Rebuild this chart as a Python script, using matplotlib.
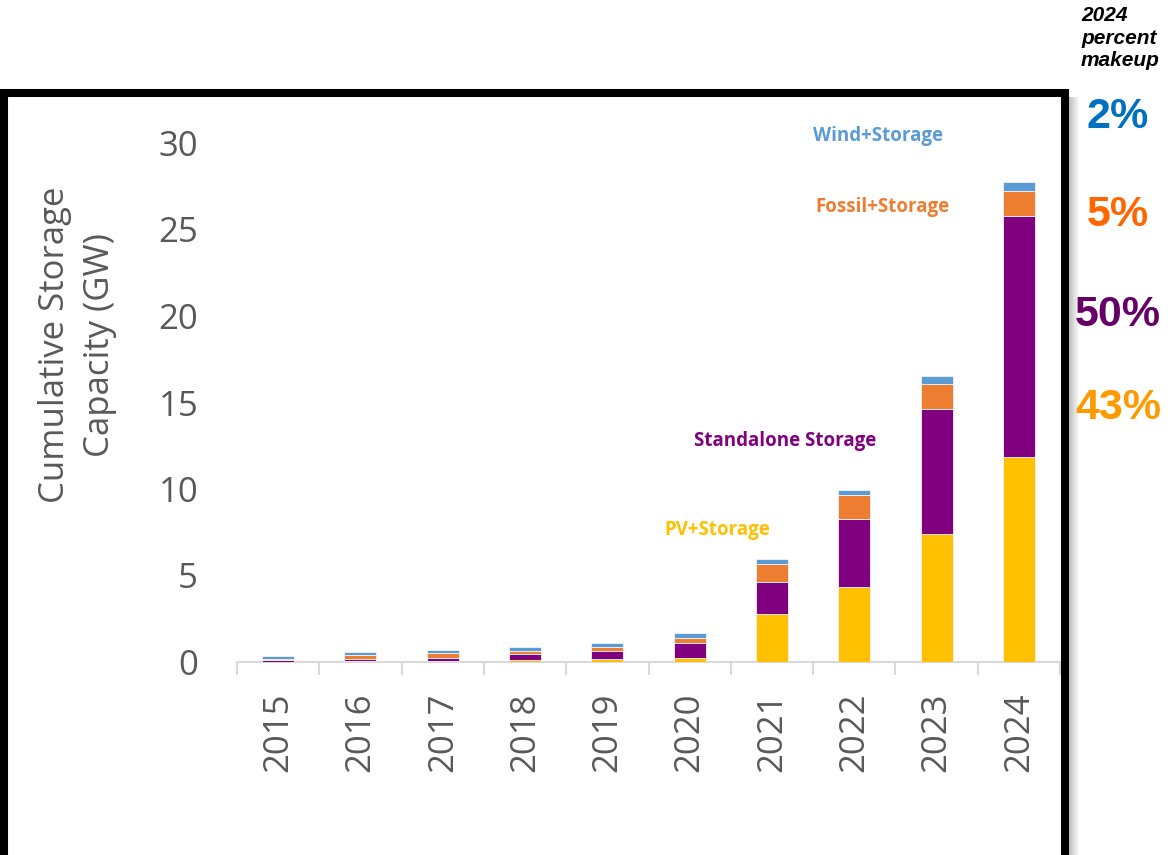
import matplotlib
matplotlib.use("Agg")
import matplotlib.pyplot as plt
from matplotlib.patches import Rectangle
import numpy as np

years = ["2015", "2016", "2017", "2018", "2019", "2020", "2021", "2022", "2023", "2024"]

# cumulative capacity by configuration, GW
pv_storage = [0.02, 0.03, 0.05, 0.12, 0.20, 0.25, 2.79, 4.34, 7.40, 11.85]
standalone = [0.08, 0.17, 0.18, 0.37, 0.46, 0.87, 1.83, 3.93, 7.22, 13.95]
fossil_storage = [0.08, 0.21, 0.29, 0.17, 0.23, 0.27, 1.04, 1.38, 1.45, 1.40]
wind_storage = [0.19, 0.19, 0.19, 0.21, 0.21, 0.29, 0.28, 0.29, 0.46, 0.55]

series_names = ["PV+Storage", "Standalone Storage", "Fossil+Storage", "Wind+Storage"]
series_colors = ["#FFC000", "#800080", "#ED7D31", "#5B9BD5"]

makeup_2024 = ["2%", "5%", "50%", "43%"]
makeup_colors = ["#0070C0", "#FF6600", "#660066", "#FF9900"]

gray = "#595959"
W, H = 1170, 855

fig = plt.figure(figsize=(11.7, 8.55), dpi=100)
fig.patch.set_facecolor("white")
ax = fig.add_axes([237 / W, 1 - 662 / H, 823 / W, 519 / H])

x = np.arange(len(years))
bottom = np.zeros(len(years))
for vals, name, col in zip([pv_storage, standalone, fossil_storage, wind_storage],
                           series_names, series_colors):
    ax.bar(x, vals, 0.39, bottom=bottom, color=col, edgecolor="#f4f4f4",
           linewidth=0.6, label=name, zorder=3)
    bottom += np.array(vals)

ax.set_xlim(-0.5, len(years) - 0.5)
ax.set_ylim(0, 30)
ax.set_yticks([0, 5, 10, 15, 20, 25, 30])
ax.tick_params(axis="y", length=0, pad=28, labelsize=25, labelcolor=gray)
for s in ["left", "right", "top"]:
    ax.spines[s].set_visible(False)
ax.spines["bottom"].set_color("#D9D9D9")
ax.spines["bottom"].set_linewidth(1.5)

# category labels centred, tick marks on the category boundaries
ax.set_xticks(x)
ax.set_xticklabels(years, rotation=90, fontsize=25, color=gray)
ax.tick_params(axis="x", which="major", length=0, pad=22)
ax.set_xticks(np.arange(-0.5, len(years)), minor=True)
ax.tick_params(axis="x", which="minor", length=9, width=1.5, color="#D9D9D9", direction="out")

for t in ax.get_xticklabels() + ax.get_yticklabels():
    t.set_fontfamily("Open Sans")

# series labels
label_pos = [(5.33, 7.63), (6.16, 12.77), (7.34, 26.3), (7.29, 30.4)]
for name, col, (lx, ly) in zip(series_names, series_colors, label_pos):
    ax.text(lx, ly, name, color=col, fontsize=13.5, fontweight="bold",
            family="Open Sans", ha="center", va="center", clip_on=False)

fig.text(55 / W, 1 - 345 / H, "Cumulative Storage", rotation=90, fontsize=25,
         color=gray, family="Open Sans", ha="center", va="center")
fig.text(100 / W, 1 - 345 / H, "Capacity (GW)", rotation=90, fontsize=25,
         color=gray, family="Open Sans", ha="center", va="center")

# frame with a soft shadow on the right
for i in range(10):
    fig.patches.append(Rectangle((1069 / W + i / W, 0), 1 / W, 1 - 97 / H,
                                 transform=fig.transFigure, color="black",
                                 alpha=0.25 * (1 - i / 10), lw=0, zorder=0))
fig.patches.append(Rectangle((4 / W, -0.01), 1061 / W, 1 - 93 / H + 0.01,
                             transform=fig.transFigure, fill=False,
                             edgecolor="black", lw=5.8, zorder=5))

# 2024 share column
fig.text(1081 / W, 1 - 6 / H, "2024\npercent\nmakeup", fontsize=15,
         fontweight="bold", style="italic", family="Liberation Sans",
         ha="left", va="top", linespacing=1.25)
for txt, col, yy in zip(makeup_2024, makeup_colors, [117, 215, 315, 408]):
    fig.text(1118 / W, 1 - yy / H, txt, fontsize=31, fontweight="bold",
             color=col, family="Liberation Sans", ha="center", va="center")

fig.savefig("out.png", dpi=100, facecolor="white")
